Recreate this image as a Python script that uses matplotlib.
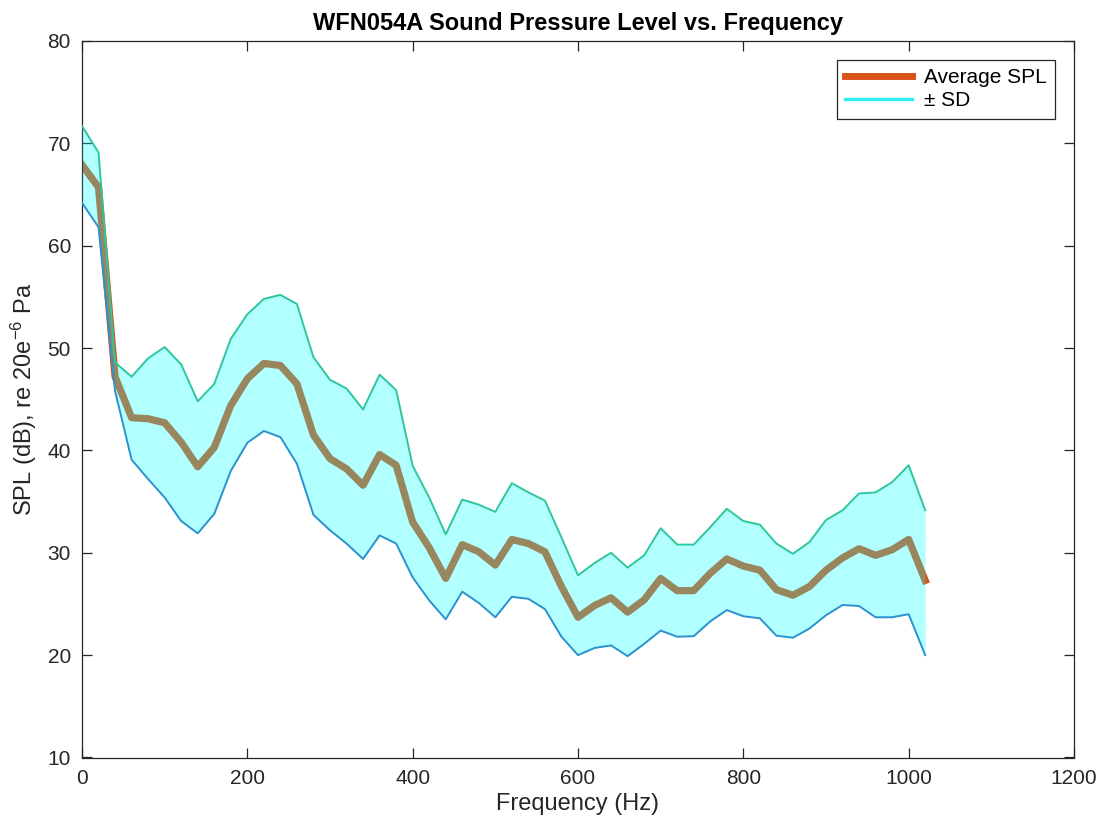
import matplotlib
matplotlib.use("Agg")
import matplotlib.pyplot as plt
from matplotlib.lines import Line2D
import numpy as np

plt.rcParams['font.family'] = ['Liberation Sans', 'DejaVu Sans']
plt.rcParams['mathtext.fontset'] = 'custom'
plt.rcParams['mathtext.rm'] = 'Liberation Sans'
plt.rcParams['mathtext.it'] = 'Liberation Sans:italic'

freq_hz = list(range(0, 1040, 20))

spl_upper = [71.7, 69.1, 48.6, 47.2, 49.0, 50.1, 48.4, 44.8, 46.5, 50.9,
             53.3, 54.8, 55.2, 54.3, 49.1, 46.9, 46.05, 44.0, 47.4, 45.9,
             38.5, 35.4, 31.8, 35.2, 34.7, 34.0, 36.8, 35.9, 35.1, 31.5,
             27.8, 29.0, 30.0, 28.55, 29.75, 32.4, 30.8, 30.8, 32.5, 34.3,
             33.1, 32.75, 30.9, 29.9, 31.05, 33.2, 34.15, 35.8, 35.9, 36.9,
             38.55, 34.15]

spl_mean = [67.9, 65.7, 47.2, 43.2, 43.1, 42.7, 40.8, 38.4, 40.3, 44.4,
            47.0, 48.5, 48.3, 46.5, 41.5, 39.2, 38.2, 36.6, 39.6, 38.55,
            33.0, 30.5, 27.5, 30.8, 30.1, 28.8, 31.3, 30.9, 30.1, 26.7,
            23.7, 24.85, 25.6, 24.2, 25.4, 27.5, 26.3, 26.3, 28.0, 29.4,
            28.7, 28.3, 26.4, 25.85, 26.7, 28.3, 29.5, 30.4, 29.75, 30.3,
            31.3, 27.3]

spl_lower = [64.2, 61.8, 45.8, 39.1, 37.2, 35.4, 33.1, 31.9, 33.8, 38.0,
             40.75, 41.9, 41.3, 38.7, 33.7, 32.2, 30.9, 29.4, 31.7, 30.9,
             27.6, 25.35, 23.5, 26.2, 25.1, 23.7, 25.7, 25.5, 24.5, 21.8,
             20.0, 20.7, 20.95, 19.9, 21.1, 22.4, 21.8, 21.85, 23.3, 24.4,
             23.8, 23.6, 21.9, 21.7, 22.6, 23.9, 24.9, 24.8, 23.7, 23.7,
             24.0, 20.0]

x_ticks = [0, 200, 400, 600, 800, 1000, 1200]
y_ticks = [10, 20, 30, 40, 50, 60, 70, 80]

fig = plt.figure(figsize=(11.07, 8.22), dpi=100)
ax = fig.add_axes([82 / 1107, 1 - 757.5 / 822, (1074 - 82) / 1107, (757.5 - 41) / 822])

orange = '#D95319'
ax.plot(freq_hz, spl_mean, color=orange, lw=5.2, solid_joinstyle='round', zorder=2)
ax.fill_between(freq_hz, spl_lower, spl_upper, color='cyan', alpha=0.3, lw=0, zorder=3)
ax.plot(freq_hz, spl_upper, color='#2cc79c', lw=1.4, zorder=4)
ax.plot(freq_hz, spl_lower, color='#2a92cf', lw=1.4, zorder=4)

ax.set_xlim(0, 1200)
ax.set_ylim(10, 80)
ax.set_xticks(x_ticks)
ax.set_yticks(y_ticks)

edge = '#262626'
for s in ax.spines.values():
    s.set_color(edge)
    s.set_linewidth(0.9)
ax.tick_params(direction='in', length=7, width=0.9, colors=edge,
               labelsize=15, top=True, right=True, pad=8)
for lab in ax.get_xticklabels() + ax.get_yticklabels():
    lab.set_color('#262626')

ax.set_xlabel('Frequency (Hz)', fontsize=17, color='#262626', labelpad=4)
ax.set_ylabel(r'SPL (dB), re 20e$^{-6}$ Pa', fontsize=17, color='#262626', labelpad=6)
ax.set_title('WFN054A Sound Pressure Level vs. Frequency', fontsize=17,
             fontweight='bold', color='black', pad=8)

handles = [Line2D([], [], color=orange, lw=5),
           Line2D([], [], color='#33f0f0', lw=2.5)]
leg = ax.legend(handles, ['Average SPL', '\u00b1 SD'], loc='upper right',
                fontsize=15, frameon=True, fancybox=False, framealpha=1,
                edgecolor='#262626', handlelength=3.2, borderaxespad=0.9,
                labelspacing=0.2, borderpad=0.4, handletextpad=0.6)
leg.get_frame().set_linewidth(0.9)

fig.savefig('out.png', dpi=100)
